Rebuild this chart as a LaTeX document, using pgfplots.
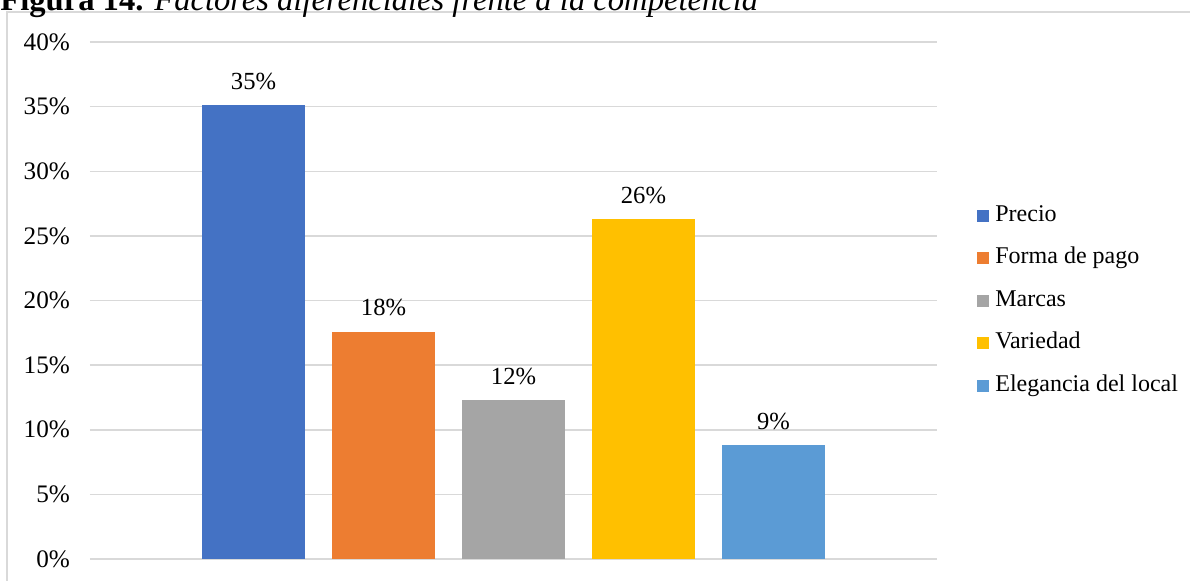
\documentclass[border=0pt]{standalone}
\usepackage{pgfplots}
\pgfplotsset{compat=1.18}
\usepackage{fontspec}
\setmainfont{Liberation Serif}
\definecolor{cPrecio}{HTML}{4472C4}
\definecolor{cForma}{HTML}{ED7D31}
\definecolor{cMarcas}{HTML}{A5A5A5}
\definecolor{cVar}{HTML}{FFC000}
\definecolor{cEleg}{HTML}{5B9BD5}
\definecolor{gridc}{HTML}{D9D9D9}
\begin{document}
\begin{tikzpicture}
\useasboundingbox (0,0) rectangle (595pt,290pt);
\clip (0,0) rectangle (595pt,290pt);
\draw[gridc, line width=0.75pt] (3.5pt,-10pt) rectangle (600pt,284pt);
\node[anchor=base west, inner sep=0pt, font=\fontsize{16.3}{18}\selectfont] at (0pt,284.8pt) {\textbf{Figura 14.} \textit{Factores diferenciales frente a la competencia}};
\begin{axis}[
  at={(45pt,10.5pt)}, anchor=south west,
  scale only axis, width=423.5pt, height=258.5pt,
  xmin=-0.258, xmax=6.258, ymin=0, ymax=40,
  /pgf/number format/assume math mode=true,
  ytick={0,5,...,40},
  yticklabel={\pgfmathprintnumber{\tick}\%},
  xtick=\empty,
  ymajorgrids, grid style={gridc, line width=0.75pt},
  axis line style={draw=none},
  major tick length=0pt,
  tick label style={font=\fontsize{12.6}{14}\selectfont},
  yticklabel style={xshift=-6.5pt},
  ybar, bar width=0.792, bar shift=0pt,
  nodes near coords={\pgfmathprintnumber[fixed,precision=0,assume math mode=true]{\pgfplotspointmeta}\%},
  nodes near coords style={font=\fontsize{12.3}{14}\selectfont, anchor=south, inner sep=0pt, yshift=7.5pt},
  legend style={at={(1,0.5)}, anchor=west, xshift=20pt, draw=none, fill=none,
    font=\fontsize{12}{14}\selectfont, inner sep=0pt, row sep=10.75pt,
    nodes={inner sep=0pt, text height=8pt, text depth=2.5pt, anchor=west},
    column sep=3pt},
  legend image code/.code={\fill[#1] (0pt,-3pt) rectangle (6pt,3pt);},
  legend cell align=left,
]
\addplot[fill=cPrecio, draw=none] coordinates {(1,35.1)};
\addlegendentry{Precio}
\addplot[fill=cForma, draw=none] coordinates {(2,17.6)};
\addlegendentry{Forma de pago}
\addplot[fill=cMarcas, draw=none] coordinates {(3,12.3)};
\addlegendentry{Marcas}
\addplot[fill=cVar, draw=none] coordinates {(4,26.3)};
\addlegendentry{Variedad}
\addplot[fill=cEleg, draw=none] coordinates {(5,8.8)};
\addlegendentry{Elegancia del local}
\end{axis}
\end{tikzpicture}
\end{document}
